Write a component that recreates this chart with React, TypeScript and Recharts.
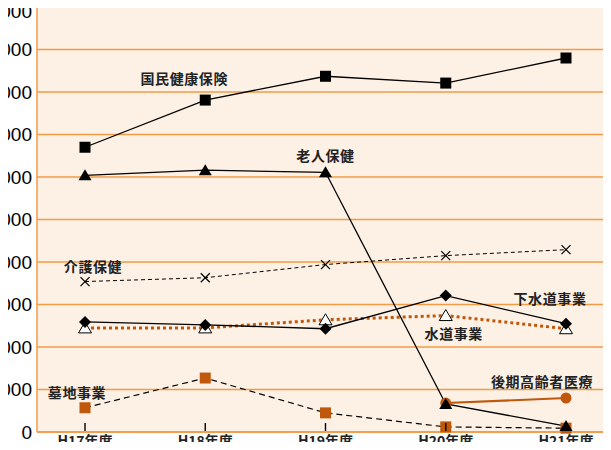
import { LineChart, Line, XAxis, YAxis, CartesianGrid } from 'recharts';

const years = ['H17年度', 'H18年度', 'H19年度', 'H20年度', 'H21年度'];
const yTicks = [0, 1000, 2000, 3000, 4000, 5000, 6000, 7000, 8000, 9000, 10000];

const kokuho = [6700, 7810, 8370, 8210, 8800];
const rojin = [6040, 6160, 6110, 660, 140];
const kaigo = [3540, 3630, 3940, 4150, 4290];
const gesuido = [2590, 2520, 2430, 3210, 2550];
const suido = [2450, 2450, 2640, 2740, 2430];
const bochi = [570, 1270, 450, 120, 90];
const koki = [null, null, null, 680, 800];

const data = years.map((y, i) => ({
  year: y,
  kokuho: kokuho[i],
  rojin: rojin[i],
  kaigo: kaigo[i],
  gesuido: gesuido[i],
  suido: suido[i],
  bochi: bochi[i],
  koki: koki[i],
}));

const ORANGE = '#F39A45';
const BROWN = '#C0580C';
const BG = '#FDF1E5';
const FONT = '"Noto Sans CJK JP", "Liberation Sans", sans-serif';

type Shape = 'square' | 'triangle' | 'openTriangle' | 'diamond' | 'cross' | 'circle';

const marker = (shape: Shape, color: string) => (p: any) => {
  const { cx, cy, index } = p;
  const k = `${shape}-${color}-${index}`;
  if (cx == null || cy == null || p.value == null || (Array.isArray(p.value) && p.value[1] == null)) return <g key={k} />;
  switch (shape) {
    case 'square':
      return <rect key={k} x={cx - 5.5} y={cy - 5.5} width={11} height={11} fill={color} />;
    case 'triangle':
      return <polygon key={k} points={`${cx},${cy - 6} ${cx - 6.5},${cy + 5} ${cx + 6.5},${cy + 5}`} fill={color} />;
    case 'openTriangle':
      return <polygon key={k} points={`${cx},${cy - 6} ${cx - 6.5},${cy + 5} ${cx + 6.5},${cy + 5}`} fill="#fff" stroke="#000" strokeWidth={1} />;
    case 'diamond':
      return <polygon key={k} points={`${cx},${cy - 6} ${cx + 6},${cy} ${cx},${cy + 6} ${cx - 6},${cy}`} fill={color} />;
    case 'cross':
      return (
        <g key={k} stroke="#000" strokeWidth={1.2}>
          <line x1={cx - 4.5} y1={cy - 4.5} x2={cx + 4.5} y2={cy + 4.5} />
          <line x1={cx - 4.5} y1={cy + 4.5} x2={cx + 4.5} y2={cy - 4.5} />
        </g>
      );
    default:
      return <circle key={k} cx={cx} cy={cy} r={5.5} fill={color} />;
  }
};

// name label tied to one point of the series
const tag = (text: string, at: number, dx: number, dy: number) => (p: any) => {
  if (p.index !== at) return <g key={`t-${text}-${p.index}`} />;
  return (
    <text
      key={`t-${text}`}
      x={p.x + dx}
      y={p.y + dy + 5}
      textAnchor="middle"
      fontFamily={FONT}
      fontSize={14}
      fontWeight="bold"
      fill="#222"
      letterSpacing={0.6}
    >
      {text}
    </text>
  );
};

const XTick = (p: any) => {
  const { x, y, payload } = p;
  return (
    <g>
      <line x1={x} y1={y - 9} x2={x} y2={y - 1} stroke="#000" strokeWidth={1.4} />
      <text x={x} y={y + 14} textAnchor="middle" fontFamily={FONT} fontSize={14} fontWeight="bold" fill="#222">
        {payload.value}
      </text>
    </g>
  );
};

export default function App() {
  return (
    <div style={{ margin: -8, width: 611, height: 450, overflow: 'hidden', background: '#fff' }}>
      <LineChart width={611} height={450} data={data} margin={{ top: 7, right: 0, left: 0, bottom: 0 }}>
        <CartesianGrid yAxisId="left" vertical={false} stroke={ORANGE} strokeWidth={1.5} fill={BG} fillOpacity={1} />
        <XAxis
          dataKey="year"
          padding={{ left: 48, right: 38 }}
          height={18}
          axisLine={{ stroke: ORANGE, strokeWidth: 1.5 }}
          tickLine={false}
          tickSize={0}
          tickMargin={0}
          tick={<XTick />}
          interval={0}
        />
        <YAxis
          yAxisId="left"
          domain={[0, 10000]}
          ticks={yTicks}
          width={37}
          axisLine={{ stroke: ORANGE, strokeWidth: 1.5 }}
          tickLine={false}
          tickSize={5}
          tickMargin={0}
          tick={{ fontFamily: '"Liberation Sans", Arial, sans-serif', fontSize: 19, fill: '#000' }}
        />
        <YAxis
          yAxisId="right"
          orientation="right"
          domain={[0, 10000]}
          ticks={yTicks}
          width={7}
          axisLine={{ stroke: ORANGE, strokeWidth: 1.5 }}
          tickLine={false}
          tick={false}
        />
        <Line yAxisId="left" dataKey="kokuho" stroke="#000" strokeWidth={1.3} dot={marker('square', '#000')} label={tag('国民健康保険', 1, -21, -21)} isAnimationActive={false} />
        <Line yAxisId="left" dataKey="kaigo" stroke="#000" strokeWidth={1} strokeDasharray="4 3" dot={marker('cross', '#000')} label={tag('介護保健', 0, 8, -15)} isAnimationActive={false} />
        <Line yAxisId="left" dataKey="suido" stroke={BROWN} strokeWidth={3} strokeDasharray="3 3" dot={marker('openTriangle', '#fff')} label={tag('水道事業', 3, 8, 18)} isAnimationActive={false} />
        <Line yAxisId="left" dataKey="gesuido" stroke="#000" strokeWidth={1.3} dot={marker('diamond', '#000')} label={tag('下水道事業', 4, -16, -25)} isAnimationActive={false} />
        <Line yAxisId="left" dataKey="bochi" stroke="#000" strokeWidth={1.2} strokeDasharray="6 4" dot={marker('square', BROWN)} label={tag('墓地事業', 0, -8, -15)} isAnimationActive={false} />
        <Line yAxisId="left" dataKey="koki" stroke={BROWN} strokeWidth={2} dot={marker('circle', BROWN)} label={tag('後期高齢者医療', 4, -24, -16)} isAnimationActive={false} />
        <Line yAxisId="left" dataKey="rojin" stroke="#000" strokeWidth={1.3} dot={marker('triangle', '#000')} label={tag('老人保健', 2, 0, -16)} isAnimationActive={false} />
      </LineChart>
    </div>
  );
}
